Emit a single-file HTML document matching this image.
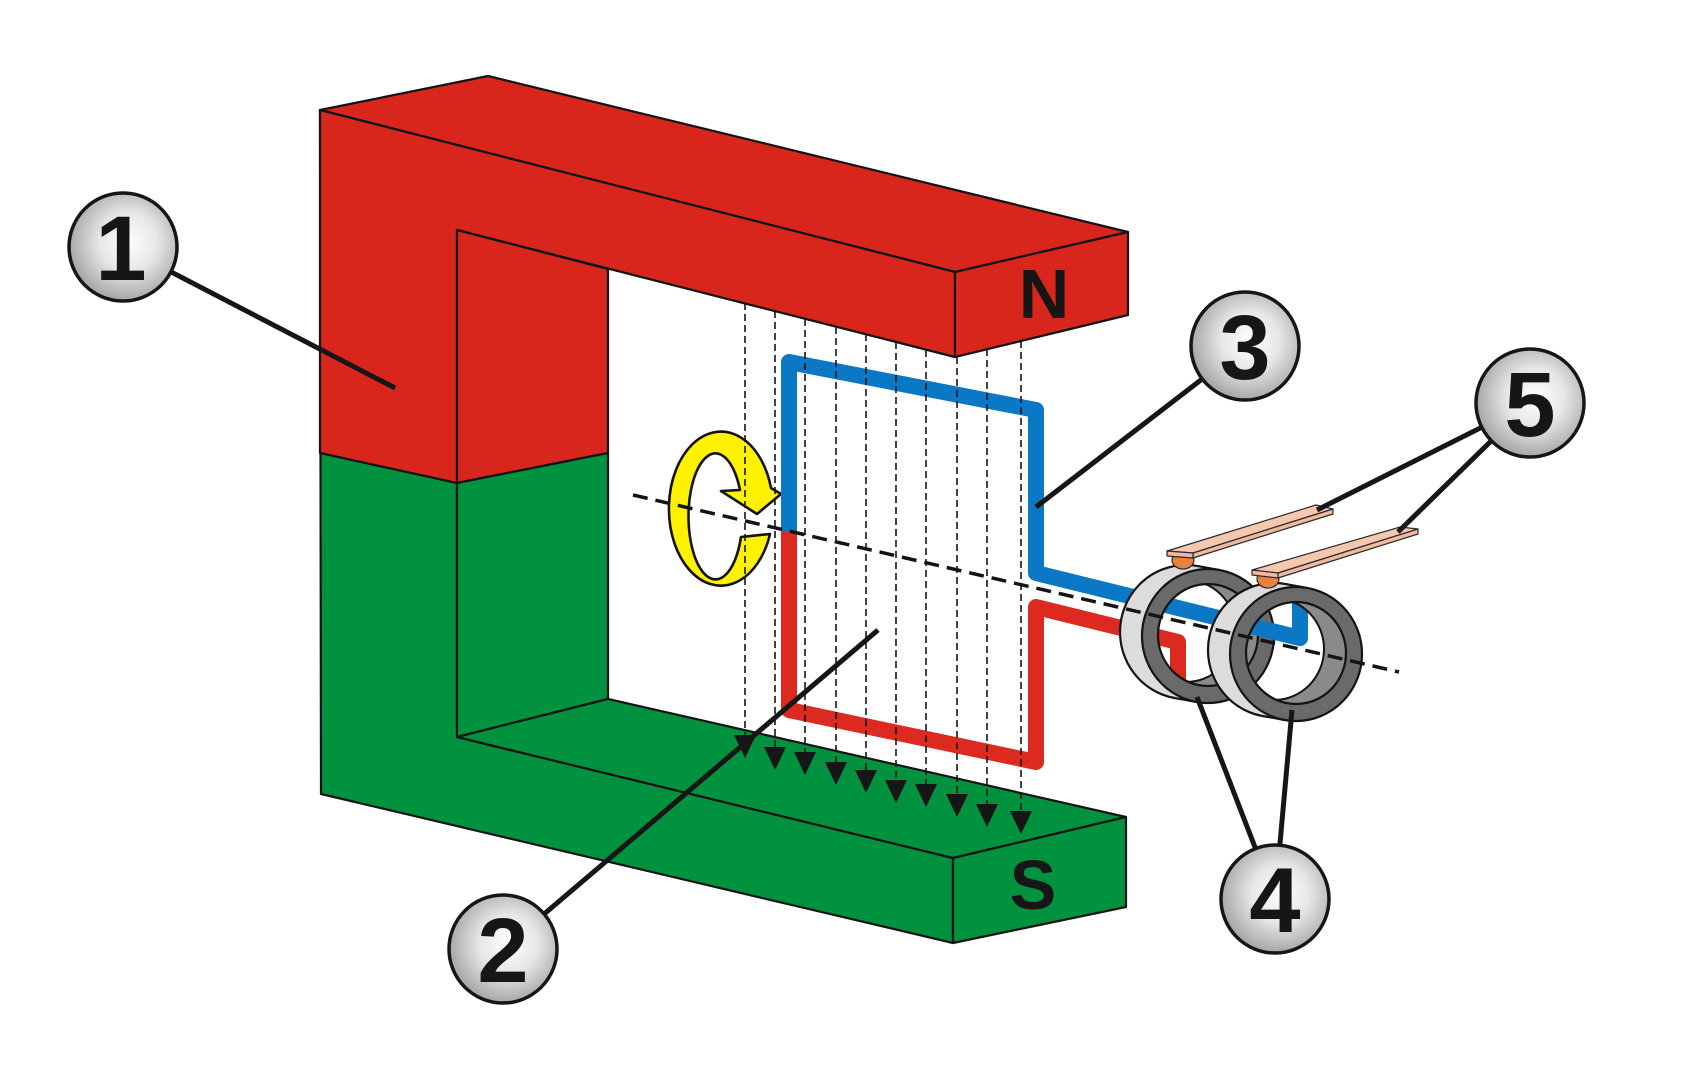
<!DOCTYPE html>
<html>
<head>
<meta charset="utf-8">
<style>
  html, body { margin: 0; padding: 0; background: #ffffff; }
  svg { display: block; }
  .num { font-family: "Liberation Sans", Arial, sans-serif; font-weight: bold; font-size: 92px; fill: #161616; text-anchor: middle; }
  .pole { font-family: "Liberation Sans", Arial, sans-serif; font-weight: bold; font-size: 70px; fill: #161616; text-anchor: middle; }
</style>
</head>
<body>
<svg width="1694" height="1066" viewBox="0 0 1694 1066" xmlns="http://www.w3.org/2000/svg">
  <defs>
    <radialGradient id="cg" cx="55%" cy="45%" r="60%">
      <stop offset="0%" stop-color="#ffffff"/>
      <stop offset="45%" stop-color="#e6e6e6"/>
      <stop offset="100%" stop-color="#9c9c9c"/>
    </radialGradient>
    <mask id="mA" maskUnits="userSpaceOnUse" x="0" y="0" width="1694" height="1066">
      <rect x="0" y="0" width="1694" height="1066" fill="#fff"/>
      <ellipse cx="1208" cy="635" rx="50" ry="51" fill="#000"/>
    </mask>
    <mask id="cA" maskUnits="userSpaceOnUse" x="0" y="0" width="1694" height="1066">
      <ellipse cx="1208" cy="635" rx="50" ry="51" fill="#fff"/>
      <ellipse cx="1186" cy="631" rx="50" ry="51" fill="#000"/>
    </mask>
    <clipPath id="clA"><ellipse cx="1208" cy="635" rx="50" ry="51"/></clipPath>
    <mask id="mB" maskUnits="userSpaceOnUse" x="0" y="0" width="1694" height="1066">
      <rect x="0" y="0" width="1694" height="1066" fill="#fff"/>
      <ellipse cx="1296" cy="653" rx="50" ry="51" fill="#000"/>
    </mask>
    <mask id="cB" maskUnits="userSpaceOnUse" x="0" y="0" width="1694" height="1066">
      <ellipse cx="1296" cy="653" rx="50" ry="51" fill="#fff"/>
      <ellipse cx="1274" cy="649" rx="50" ry="51" fill="#000"/>
    </mask>
    <clipPath id="clB"><ellipse cx="1296" cy="653" rx="50" ry="51"/></clipPath>
  </defs>

  <rect x="0" y="0" width="1694" height="1066" fill="#ffffff"/>

  <!-- ===== MAGNET ===== -->
  <g stroke="#141414" stroke-width="2.2" stroke-linejoin="round">
    <polygon points="320,110 488,76 1128,232 955,272" fill="#D9261C"/>
    <polygon points="320,110 955,272 955,357 457,230 457,737 953,858 953,943 321,794" fill="#00923F"/>
    <polygon points="320,110 955,272 955,357 457,230 457,483 320,453" fill="#D9261C"/>
    <polygon points="955,272 1128,232 1128,315 955,357" fill="#D9261C"/>
    <polygon points="457,230 608,269 608,453 457,483" fill="#D9261C"/>
    <polygon points="457,483 608,453 608,699 457,737" fill="#00923F"/>
    <polygon points="457,737 608,699 1126,817 953,858" fill="#00923F"/>
    <polygon points="953,858 1126,817 1126,907 953,943" fill="#00923F"/>
  </g>
  <text class="pole" x="1044" y="318">N</text>
  <text class="pole" x="1033" y="909">S</text>

  <!-- ===== YELLOW ROTATION ARROW ===== -->
  <path d="M 770 534 A 52 77 0 1 1 771 488 L 781 494 L 757 514 L 721 491 L 740 490 A 27 63 0 1 0 741 537 Z"
        fill="#FFF200" stroke="#141414" stroke-width="2.6" stroke-linejoin="round"/>

  <!-- ===== COIL ===== -->
  <path d="M 789 532 L 789 362 L 1036 410 L 1036 573 L 1300 638 L 1300 595"
        fill="none" stroke="#0A78C4" stroke-width="16" stroke-linejoin="round"/>
  <path d="M 789 532 L 789 710 L 1036 762 L 1036 607 L 1178 642 L 1178 688"
        fill="none" stroke="#DD2A20" stroke-width="16" stroke-linejoin="round"/>

  <!-- ===== FIELD LINES ===== -->
  <g stroke="#141414" stroke-width="1.6" stroke-dasharray="7 4" fill="none">
    <line x1="745" y1="303" x2="745" y2="736"/>
    <line x1="775" y1="311" x2="775" y2="748"/>
    <line x1="805" y1="319" x2="805" y2="753"/>
    <line x1="836" y1="327" x2="836" y2="763"/>
    <line x1="866" y1="334" x2="866" y2="771"/>
    <line x1="896" y1="342" x2="896" y2="781"/>
    <line x1="926" y1="350" x2="926" y2="785"/>
    <line x1="957" y1="357" x2="957" y2="795"/>
    <line x1="987" y1="349" x2="987" y2="805"/>
    <line x1="1021" y1="341" x2="1021" y2="812"/>
  </g>
  <g fill="#161616">
    <polygon points="734,735 756,735 745,758"/>
    <polygon points="764,747 786,747 775,770"/>
    <polygon points="794,752 816,752 805,775"/>
    <polygon points="825,762 847,762 836,785"/>
    <polygon points="855,770 877,770 866,793"/>
    <polygon points="885,780 907,780 896,803"/>
    <polygon points="915,784 937,784 926,807"/>
    <polygon points="946,794 968,794 957,817"/>
    <polygon points="976,804 998,804 987,827"/>
    <polygon points="1010,811 1032,811 1021,834"/>
  </g>

  <!-- ===== RING A ===== -->
  <ellipse cx="1208" cy="635" rx="50" ry="51" fill="#8a8a8a" mask="url(#cA)"/>
  <ellipse cx="1186" cy="631" rx="50" ry="51" fill="none" stroke="#141414" stroke-width="2" clip-path="url(#clA)"/>
  <g mask="url(#mA)">
    <ellipse cx="1186" cy="632" rx="66" ry="67" fill="#dcdcdc" stroke="#141414" stroke-width="2.2"/>
    <polygon points="1219.7,570.1 1197.7,566.1 1174.3,697.9 1196.3,701.9" fill="#dcdcdc"/>
    <line x1="1219.7" y1="570.1" x2="1197.7" y2="566.1" stroke="#141414" stroke-width="2.2"/>
    <line x1="1174.3" y1="697.9" x2="1196.3" y2="701.9" stroke="#141414" stroke-width="2.2"/>
    <ellipse cx="1208" cy="636" rx="66" ry="67" fill="#6a6a6a" stroke="#141414" stroke-width="2.2"/>
  </g>
  <ellipse cx="1208" cy="635" rx="50" ry="51" fill="none" stroke="#141414" stroke-width="2.2"/>

  <path d="M 1036 573 L 1300 638 L 1300 595" fill="none" stroke="#0A78C4" stroke-width="16" stroke-linejoin="round" clip-path="url(#clB)"/>

  <!-- ===== RING B ===== -->
  <ellipse cx="1296" cy="653" rx="50" ry="51" fill="#8a8a8a" mask="url(#cB)"/>
  <ellipse cx="1274" cy="649" rx="50" ry="51" fill="none" stroke="#141414" stroke-width="2" clip-path="url(#clB)"/>
  <g mask="url(#mB)">
    <ellipse cx="1274" cy="650" rx="66" ry="67" fill="#dcdcdc" stroke="#141414" stroke-width="2.2"/>
    <polygon points="1307.7,588.1 1285.7,584.1 1262.3,715.9 1284.3,719.9" fill="#dcdcdc"/>
    <line x1="1307.7" y1="588.1" x2="1285.7" y2="584.1" stroke="#141414" stroke-width="2.2"/>
    <line x1="1262.3" y1="715.9" x2="1284.3" y2="719.9" stroke="#141414" stroke-width="2.2"/>
    <ellipse cx="1296" cy="654" rx="66" ry="67" fill="#6a6a6a" stroke="#141414" stroke-width="2.2"/>
  </g>
  <ellipse cx="1296" cy="653" rx="50" ry="51" fill="none" stroke="#141414" stroke-width="2.2"/>

  <!-- ===== BRUSHES ===== -->
  <g stroke="#2a2a2a" stroke-width="1.2" stroke-linejoin="round">
    <ellipse cx="1183" cy="560" rx="11" ry="9" fill="#E9823F"/>
    <polygon points="1167,551 1316,505 1333,509 1193,553" fill="#F6C7AF"/>
    <polygon points="1193,553 1333,509 1333,514 1193,558" fill="#F1B99E"/>
    <polygon points="1167,551 1193,553 1193,558 1167,556" fill="#F1B99E"/>

    <ellipse cx="1268" cy="579" rx="11" ry="9" fill="#E9823F"/>
    <polygon points="1252,570 1400,527 1418,529 1278,573" fill="#F6C7AF"/>
    <polygon points="1278,573 1418,529 1418,534 1278,578" fill="#F1B99E"/>
    <polygon points="1252,570 1278,573 1278,578 1252,575" fill="#F1B99E"/>
  </g>

  <!-- ===== AXIS ===== -->
  <line x1="633" y1="495" x2="1399" y2="672" stroke="#141414" stroke-width="3.5" stroke-dasharray="15 8"/>

  <!-- ===== LEADER LINES ===== -->
  <g stroke="#161616" stroke-width="5" stroke-linecap="butt">
    <line x1="123" y1="247" x2="395" y2="388"/>
    <line x1="503" y1="949" x2="878" y2="630"/>
    <line x1="1245" y1="346" x2="1036" y2="507"/>
    <line x1="1275" y1="899" x2="1197" y2="697"/>
    <line x1="1275" y1="899" x2="1292" y2="710"/>
    <line x1="1530" y1="403" x2="1317" y2="510"/>
    <line x1="1530" y1="403" x2="1398" y2="532"/>
  </g>

  <!-- ===== NUMBER CIRCLES ===== -->
  <g stroke="#161616" stroke-width="3.5" fill="url(#cg)">
    <circle cx="123" cy="247" r="54"/>
    <circle cx="503" cy="949" r="54"/>
    <circle cx="1245" cy="346" r="54"/>
    <circle cx="1275" cy="899" r="54"/>
    <circle cx="1530" cy="403" r="54"/>
  </g>
  <text class="num" x="121" y="280">1</text>
  <text class="num" x="503" y="982">2</text>
  <text class="num" x="1245" y="379">3</text>
  <text class="num" x="1275" y="932">4</text>
  <text class="num" x="1530" y="436">5</text>
</svg>
</body>
</html>
